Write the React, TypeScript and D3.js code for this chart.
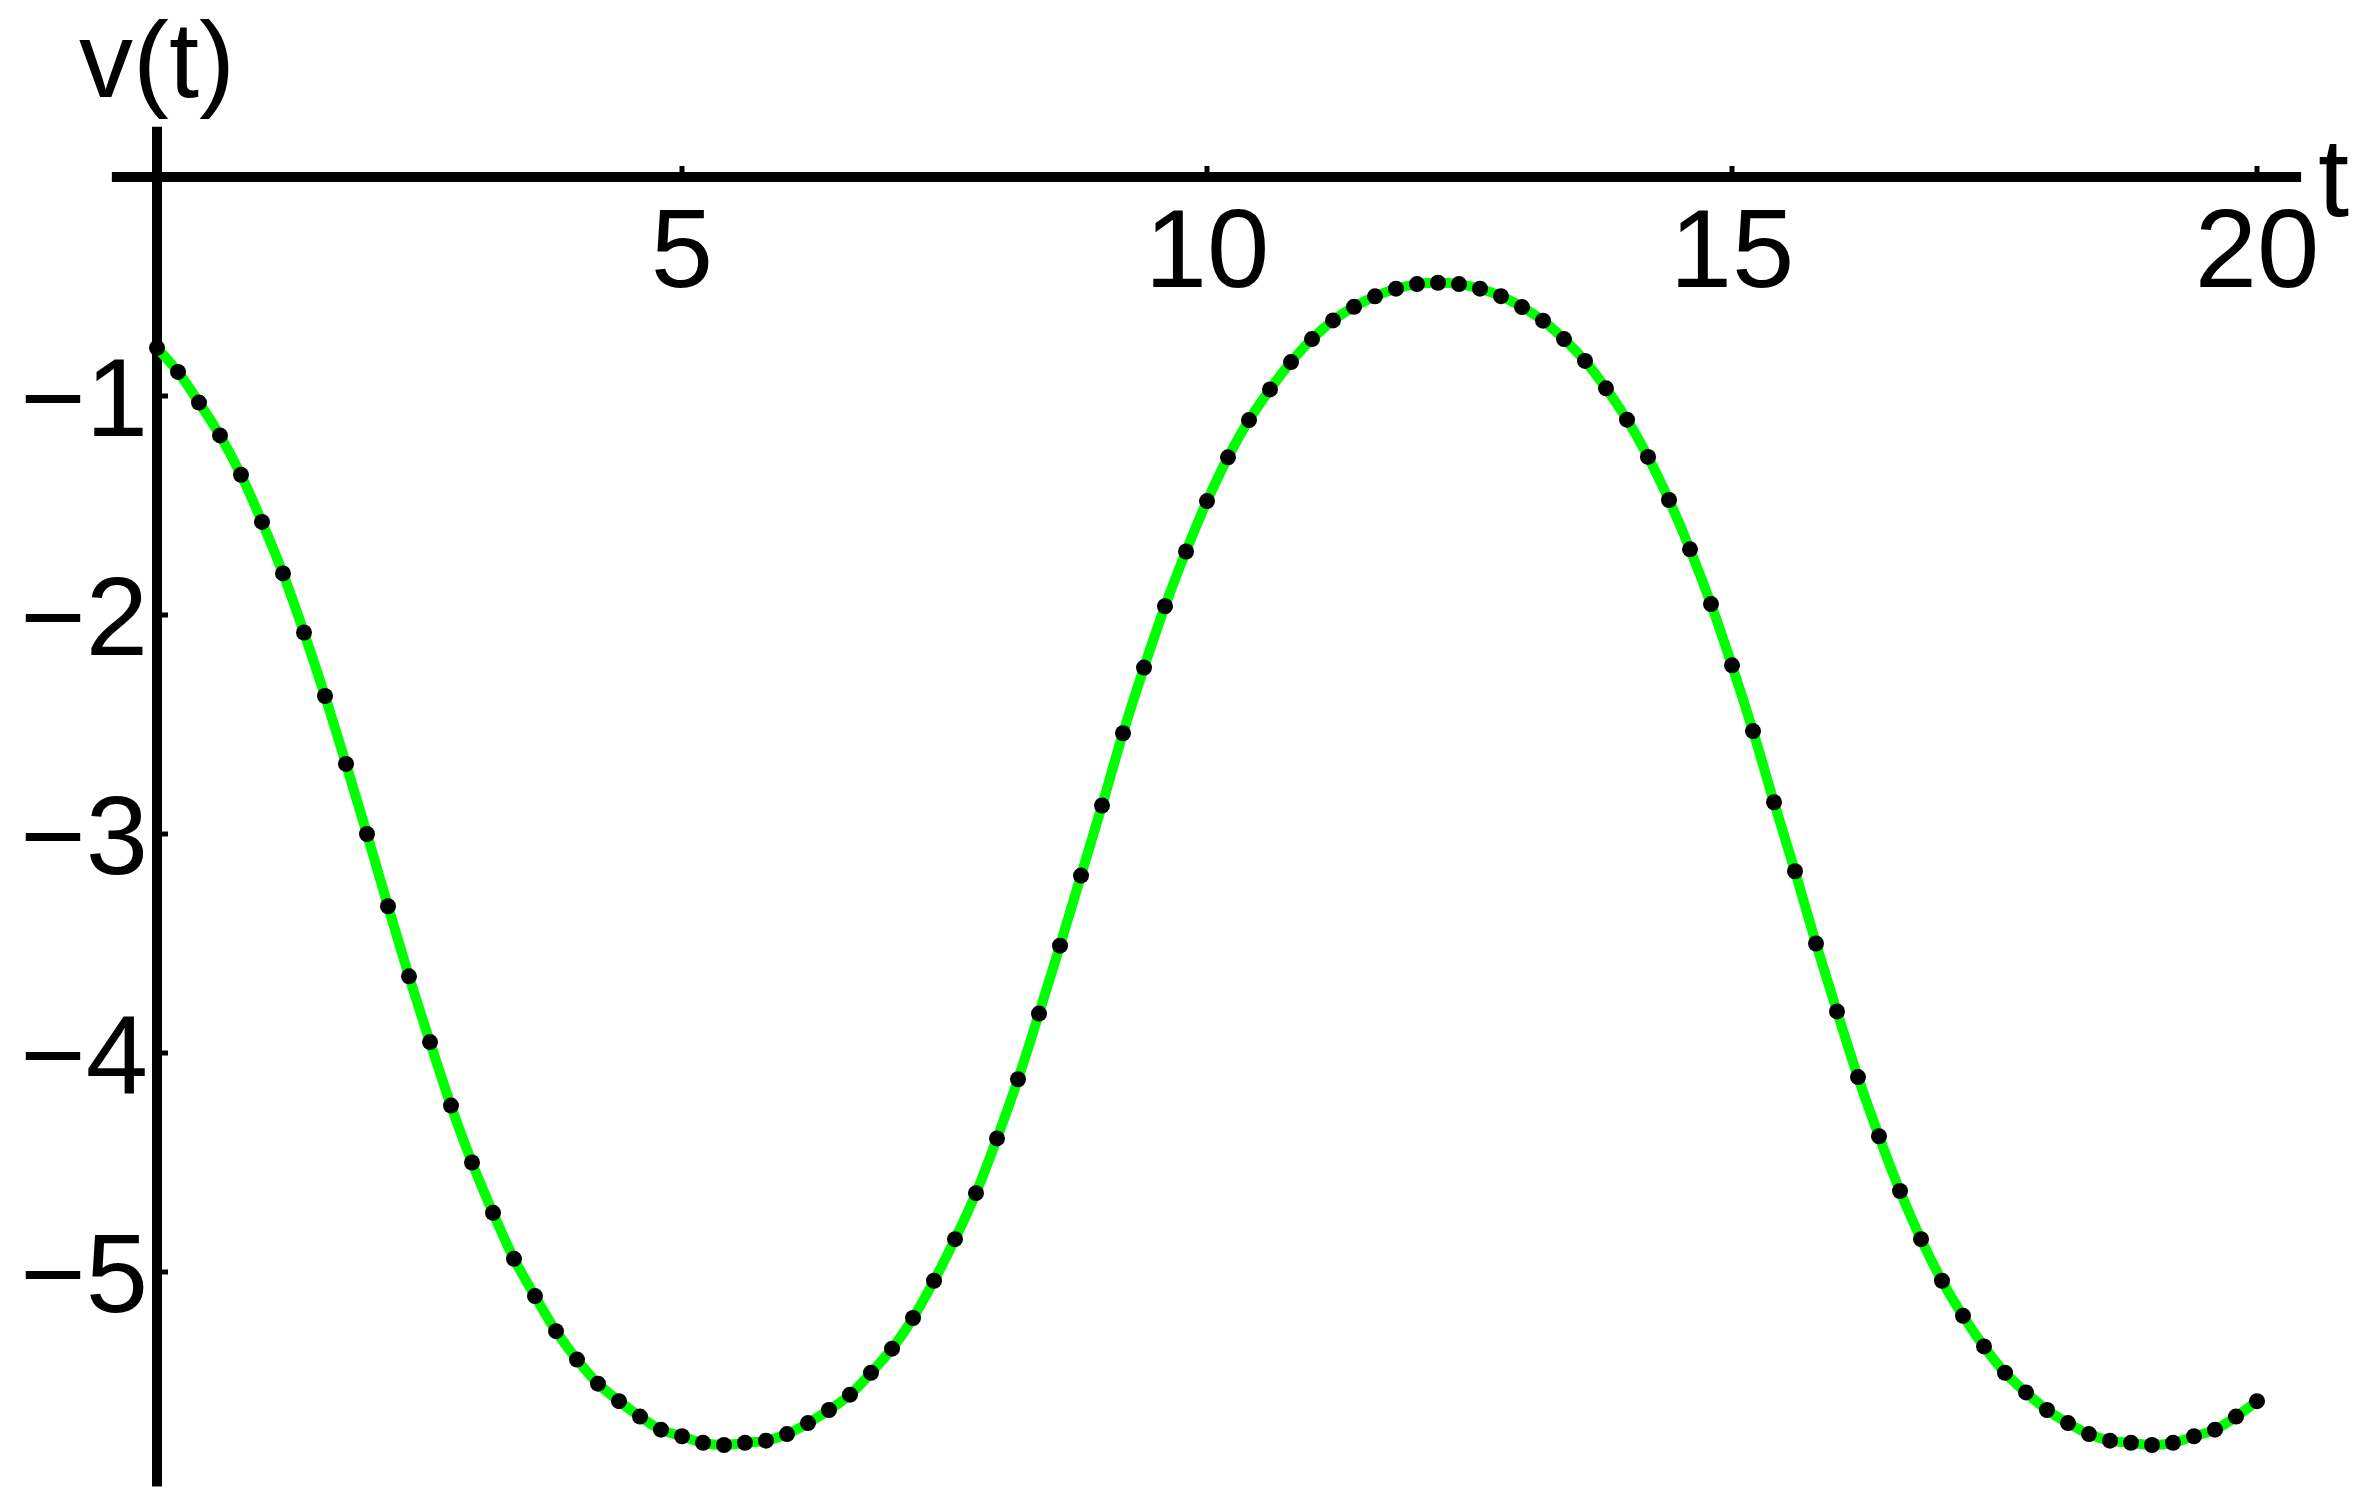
import React from "react";
import * as d3 from "d3";

// sample times (every 0.2) and values
const tValues = [
  0, 0.2, 0.4, 0.6, 0.8, 1, 1.2, 1.4, 1.6, 1.8, 2, 2.2, 2.4, 2.6, 2.8, 3, 3.2,
  3.4, 3.6, 3.8, 4, 4.2, 4.4, 4.6, 4.8, 5, 5.2, 5.4, 5.6, 5.8, 6, 6.2, 6.4, 6.6,
  6.8, 7, 7.2, 7.4, 7.6, 7.8, 8, 8.2, 8.4, 8.6, 8.8, 9, 9.2, 9.4, 9.6, 9.8, 10,
  10.2, 10.4, 10.6, 10.8, 11, 11.2, 11.4, 11.6, 11.8, 12, 12.2, 12.4, 12.6,
  12.8, 13, 13.2, 13.4, 13.6, 13.8, 14, 14.2, 14.4, 14.6, 14.8, 15, 15.2, 15.4,
  15.6, 15.8, 16, 16.2, 16.4, 16.6, 16.8, 17, 17.2, 17.4, 17.6, 17.8, 18, 18.2,
  18.4, 18.6, 18.8, 19, 19.2, 19.4, 19.6, 19.8, 20,
];

const vValues = [
  -0.78, -0.89, -1.03, -1.18, -1.36, -1.575, -1.81, -2.08, -2.37, -2.68, -3.0,
  -3.33, -3.65, -3.95, -4.24, -4.5, -4.73, -4.94, -5.11, -5.27, -5.4, -5.51,
  -5.59, -5.66, -5.72, -5.75, -5.78, -5.79, -5.78, -5.77, -5.74, -5.69, -5.63,
  -5.56, -5.46, -5.35, -5.21, -5.04, -4.85, -4.64, -4.39, -4.12, -3.82, -3.51,
  -3.19, -2.87, -2.54, -2.24, -1.96, -1.71, -1.48, -1.28, -1.11, -0.97, -0.845,
  -0.74, -0.655, -0.593, -0.545, -0.51, -0.489, -0.483, -0.489, -0.51, -0.544,
  -0.594, -0.656, -0.74, -0.84, -0.965, -1.108, -1.278, -1.475, -1.7, -1.95,
  -2.23, -2.53, -2.855, -3.17, -3.5, -3.81, -4.11, -4.38, -4.63, -4.85, -5.04,
  -5.2, -5.34, -5.46, -5.55, -5.63, -5.69, -5.74, -5.77, -5.78, -5.79, -5.78,
  -5.75, -5.72, -5.66, -5.59,
];

const xTicks = [5, 10, 15, 20];
const yTicks = [-1, -2, -3, -4, -5];

const W = 2369;
const H = 1511;
const FONT = "'Liberation Sans', Arial, Helvetica, sans-serif";

const App = () => {
  const x = d3.scaleLinear().domain([0, 20]).range([157, 2257]);
  const y = d3.scaleLinear().domain([0, -5]).range([177, 1272]);

  const points = tValues.map((t, i) => [t, vValues[i]] as [number, number]);

  const line = d3
    .line<[number, number]>()
    .x((d) => x(d[0]))
    .y((d) => y(d[1]))
    .curve(d3.curveCatmullRom);

  const x0 = x(0);
  const y0 = y(0);

  return (
    <svg
      width={W}
      height={H}
      viewBox={`0 0 ${W} ${H}`}
      style={{ position: "absolute", left: 0, top: 0, background: "#fff" }}
    >
      {/* axes */}
      <line x1={x(-0.43)} x2={x(20.42)} y1={y0} y2={y0} stroke="#000" strokeWidth={10} />
      <line x1={x0} x2={x0} y1={y(0.23)} y2={y(-5.98)} stroke="#000" strokeWidth={10} />

      {xTicks.map((t) => (
        <g key={"xt" + t}>
          <line x1={x(t)} x2={x(t)} y1={y0} y2={y0 - 11} stroke="#000" strokeWidth={5} />
          <text
            x={x(t)}
            y={287}
            textAnchor="middle"
            fontFamily={FONT}
            fontSize={112}
            fill="#000"
          >
            {t}
          </text>
        </g>
      ))}

      {yTicks.map((v) => (
        <g key={"yt" + v}>
          <line x1={x0} x2={x0 + 11} y1={y(v)} y2={y(v)} stroke="#000" strokeWidth={5} />
          <text
            x={148}
            y={y(v) + 40}
            textAnchor="end"
            fontFamily={FONT}
            fontSize={112}
            fill="#000"
          >
            {"\u2212" + Math.abs(v)}
          </text>
        </g>
      ))}

      <text x={79} y={97} fontFamily={FONT} fontSize={108} fill="#000">
        v(t)
      </text>
      <text x={2318} y={216} fontFamily={FONT} fontSize={112} fill="#000">
        t
      </text>

      {/* curve */}
      <path d={line(points) || ""} fill="none" stroke="#00ff00" strokeWidth={10} />

      {points.map((d, i) => (
        <circle key={i} cx={x(d[0])} cy={y(d[1])} r={8} fill="#000" />
      ))}
    </svg>
  );
};

export default App;
